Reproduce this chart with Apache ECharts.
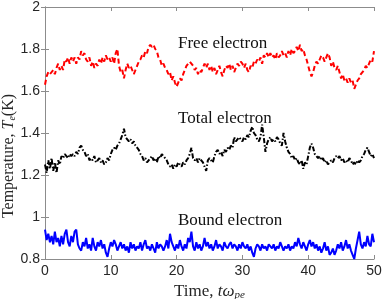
<!DOCTYPE html>
<html>
<head>
<meta charset="utf-8">
<script src="https://cdn.jsdelivr.net/npm/echarts@6/dist/echarts.min.js"></script>
<style>
html, body { margin: 0; padding: 0; background: #fff; }
#Main { width: 382px; height: 299px; }
</style>
</head>
<body>
<div id="Main"></div>
<script>
//时间步长 0.25, 0~50
var step = 0.25;
var xTicks = [0, 10, 20, 30, 40, 50];
var yTicks = [0.8, 1, 1.2, 1.4, 1.6, 1.8, 2];
//自由电子
var freeElectron = [
	1.63, 1.67, 1.69, 1.68, 1.68, 1.70, 1.68, 1.71, 1.73,
	1.70, 1.72, 1.70, 1.75, 1.74, 1.76, 1.73, 1.76,
	1.74, 1.76, 1.73, 1.76, 1.75, 1.79, 1.77, 1.78,
	1.75, 1.74, 1.76, 1.72, 1.74, 1.71, 1.73, 1.72,
	1.75, 1.73, 1.76, 1.74, 1.77, 1.75, 1.76, 1.74,
	1.76, 1.73, 1.78, 1.80, 1.72, 1.69, 1.70, 1.66,
	1.70, 1.73, 1.71, 1.72, 1.70, 1.68, 1.70, 1.72,
	1.74, 1.75, 1.77, 1.76, 1.79, 1.78, 1.81, 1.82,
	1.81, 1.82, 1.80, 1.79, 1.76, 1.75, 1.72, 1.73,
	1.71, 1.70, 1.68, 1.69, 1.65, 1.67, 1.64, 1.62,
	1.64, 1.66, 1.65, 1.68, 1.70, 1.72, 1.73, 1.74,
	1.73, 1.72, 1.70, 1.71, 1.68, 1.70, 1.69, 1.71,
	1.73, 1.71, 1.73, 1.70, 1.72, 1.69, 1.71, 1.68,
	1.70, 1.72, 1.69, 1.67, 1.70, 1.72, 1.71, 1.73,
	1.70, 1.72, 1.69, 1.71, 1.73, 1.72, 1.74, 1.73,
	1.71, 1.73, 1.70, 1.69, 1.72, 1.71, 1.74, 1.73,
	1.75, 1.74, 1.76, 1.73, 1.77, 1.76, 1.78, 1.76,
	1.78, 1.76, 1.77, 1.75, 1.78, 1.76, 1.77, 1.79,
	1.77, 1.78, 1.76, 1.79, 1.77, 1.80, 1.78, 1.79,
	1.81, 1.79, 1.82, 1.79, 1.80, 1.77, 1.75, 1.72,
	1.69, 1.67, 1.69, 1.72, 1.74, 1.73, 1.75, 1.77,
	1.76, 1.74, 1.76, 1.78, 1.76, 1.72, 1.74, 1.71,
	1.70, 1.72, 1.69, 1.66, 1.68, 1.65, 1.66, 1.64,
	1.66, 1.64, 1.65, 1.61, 1.63, 1.65, 1.66, 1.68,
	1.69, 1.70, 1.72, 1.71, 1.73, 1.75, 1.74, 1.79
];
//总电子
var totalElectron = [
	1.25, 1.21, 1.27, 1.23, 1.28, 1.22, 1.26, 1.21, 1.27,
	1.25, 1.29, 1.28, 1.30, 1.29, 1.28, 1.30, 1.29,
	1.30, 1.29, 1.31, 1.30, 1.33, 1.34, 1.32, 1.31,
	1.29, 1.30, 1.27, 1.28, 1.27, 1.29, 1.26, 1.27,
	1.28, 1.26, 1.27, 1.25, 1.26, 1.28, 1.27, 1.30,
	1.32, 1.33, 1.32, 1.34, 1.35, 1.37, 1.39, 1.42,
	1.38, 1.37, 1.36, 1.37, 1.35, 1.36, 1.34, 1.33,
	1.32, 1.30, 1.29, 1.27, 1.28, 1.26, 1.27, 1.28,
	1.29, 1.27, 1.28, 1.26, 1.29, 1.28, 1.30, 1.29,
	1.28, 1.27, 1.25, 1.24, 1.25, 1.23, 1.25, 1.24,
	1.26, 1.25, 1.24, 1.26, 1.25, 1.27, 1.28, 1.30,
	1.33, 1.28, 1.27, 1.28, 1.26, 1.28, 1.27, 1.26,
	1.24, 1.22, 1.27, 1.28, 1.27, 1.26, 1.29, 1.31,
	1.32, 1.30, 1.31, 1.29, 1.32, 1.31, 1.33, 1.32,
	1.34, 1.33, 1.38, 1.36, 1.37, 1.38, 1.37, 1.36,
	1.38, 1.37, 1.39, 1.38, 1.41, 1.43, 1.40, 1.39,
	1.37, 1.36, 1.38, 1.44, 1.38, 1.31, 1.35, 1.37,
	1.38, 1.36, 1.37, 1.36, 1.38, 1.37, 1.35, 1.34,
	1.40, 1.36, 1.33, 1.31, 1.30, 1.28, 1.29, 1.27,
	1.28, 1.26, 1.25, 1.27, 1.23, 1.26, 1.25, 1.29,
	1.33, 1.35, 1.33, 1.30, 1.29, 1.28, 1.29, 1.27,
	1.28, 1.26, 1.27, 1.25, 1.26, 1.27, 1.26, 1.28,
	1.29, 1.28, 1.29, 1.27, 1.28, 1.26, 1.27, 1.26,
	1.28, 1.27, 1.25, 1.26, 1.25, 1.27, 1.26, 1.27,
	1.29, 1.30, 1.32, 1.33, 1.31, 1.29, 1.30, 1.28
];
//束缚电子
var boundElectron = [
	0.94, 0.89, 0.92, 0.88, 0.91, 0.87, 0.93, 0.88, 0.90,
	0.86, 0.91, 0.87, 0.92, 0.94, 0.88, 0.86, 0.91,
	0.88, 0.93, 0.94, 0.87, 0.85, 0.84, 0.88, 0.86,
	0.90, 0.85, 0.87, 0.84, 0.90, 0.86, 0.84, 0.88,
	0.86, 0.89, 0.85, 0.87, 0.83, 0.81, 0.85, 0.88,
	0.86, 0.89, 0.87, 0.84, 0.86, 0.88, 0.85, 0.87,
	0.84, 0.86, 0.83, 0.88, 0.85, 0.87, 0.84, 0.86,
	0.85, 0.88, 0.84, 0.87, 0.89, 0.85, 0.86, 0.84,
	0.87, 0.85, 0.83, 0.88, 0.85, 0.87, 0.86, 0.84,
	0.86, 0.89, 0.85, 0.92, 0.88, 0.86, 0.84, 0.87,
	0.85, 0.89, 0.86, 0.84, 0.87, 0.85, 0.90, 0.88,
	0.93, 0.86, 0.84, 0.88, 0.85, 0.87, 0.84, 0.86,
	0.90, 0.86, 0.88, 0.85, 0.87, 0.84, 0.86, 0.89,
	0.85, 0.87, 0.86, 0.84, 0.88, 0.86, 0.85, 0.87,
	0.88, 0.85, 0.87, 0.86, 0.84, 0.87, 0.85, 0.88,
	0.86, 0.85, 0.87, 0.84, 0.86, 0.83, 0.81, 0.85,
	0.87, 0.86, 0.84, 0.87, 0.85, 0.86, 0.84, 0.87,
	0.86, 0.85, 0.87, 0.84, 0.86, 0.85, 0.88, 0.86,
	0.84, 0.86, 0.85, 0.87, 0.84, 0.86, 0.85, 0.88,
	0.86, 0.90, 0.87, 0.85, 0.88, 0.86, 0.84, 0.87,
	0.89, 0.86, 0.88, 0.85, 0.87, 0.84, 0.86, 0.83,
	0.85, 0.88, 0.84, 0.86, 0.82, 0.83, 0.85, 0.82,
	0.84, 0.87, 0.85, 0.88, 0.84, 0.86, 0.89, 0.85,
	0.87, 0.84, 0.82, 0.80, 0.85, 0.89, 0.93, 0.87,
	0.85, 0.88, 0.86, 0.91, 0.87, 0.86, 0.92, 0.88
];

function pairs(arr) {
	var out = [];
	for (var i = 0; i < arr.length; i++) {
		out.push([i * step, arr[i]]);
	}
	return out;
}

var axisColor = '#8c8c8c';
var labelColor = '#262626';
var serif = '"Liberation Serif", "DejaVu Serif", serif';
var sans = '"Liberation Sans", Arial, sans-serif';

var myChart = echarts.init(document.getElementById('Main'));
myChart.setOption({
	animation: false,
	grid: { left: 45, right: 8, top: 7, bottom: 40, outerBoundsMode: 'none', containLabel: false },
	xAxis: [{
		type: 'value',
		min: xTicks[0],
		max: xTicks[xTicks.length - 1],
		interval: 10,
		position: 'bottom',
		name: '{n|Time, }{i|tω}{s|pe}',
		nameLocation: 'middle',
		nameGap: 17,
		nameTextStyle: {
			rich: {
				n: { fontFamily: serif, fontSize: 17, color: labelColor },
				i: { fontFamily: serif, fontSize: 17, fontStyle: 'italic', color: labelColor },
				s: { fontFamily: serif, fontSize: 11, fontStyle: 'italic', color: labelColor, verticalAlign: 'bottom', padding: [7, 0, 0, 0] }
			}
		},
		axisLine: { lineStyle: { color: axisColor, width: 1 } },
		axisTick: { inside: true, length: 4, lineStyle: { color: axisColor } },
		axisLabel: { color: labelColor, fontFamily: sans, fontSize: 14, margin: 5 },
		splitLine: { show: false }
	}, {
		type: 'value',
		min: xTicks[0],
		max: xTicks[xTicks.length - 1],
		interval: 10,
		position: 'top',
		axisLine: { lineStyle: { color: axisColor, width: 1 } },
		axisTick: { inside: true, length: 4, lineStyle: { color: axisColor } },
		axisLabel: { show: false },
		splitLine: { show: false }
	}],
	yAxis: [{
		type: 'value',
		min: yTicks[0],
		max: yTicks[yTicks.length - 1],
		interval: 0.2,
		position: 'left',
		axisLine: { lineStyle: { color: axisColor, width: 1 } },
		axisTick: { inside: true, length: 4, lineStyle: { color: axisColor } },
		axisLabel: {
			color: labelColor, fontFamily: sans, fontSize: 14, margin: 5,
			formatter: function(v) { return String(+v.toFixed(1)); }
		},
		splitLine: { show: false }
	}, {
		type: 'value',
		min: yTicks[0],
		max: yTicks[yTicks.length - 1],
		interval: 0.2,
		position: 'right',
		axisLine: { lineStyle: { color: axisColor, width: 1 } },
		axisTick: { inside: true, length: 4, lineStyle: { color: axisColor } },
		axisLabel: { show: false },
		splitLine: { show: false }
	}],
	graphic: [
		//纵轴标题
		{
			type: 'text', x: 9, y: 156, rotation: Math.PI / 2,
			style: {
				text: '{n|Temperature, }{i|T}{s|e}{n|(K)}',
				align: 'center', verticalAlign: 'middle',
				rich: {
					n: { fontFamily: serif, fontSize: 16, fill: labelColor },
					i: { fontFamily: serif, fontSize: 16, fontStyle: 'italic', fill: labelColor },
					s: { fontFamily: serif, fontSize: 10, fontStyle: 'italic', fill: labelColor, verticalAlign: 'bottom', padding: [6, 0, 0, 0] }
				}
			}
		},
		{ type: 'text', left: 178, top: 35, style: { text: 'Free electron', font: '17px ' + serif, fill: '#111' } },
		{ type: 'text', left: 178, top: 110, style: { text: 'Total electron', font: '17px ' + serif, fill: '#111' } },
		{ type: 'text', left: 178, top: 212, style: { text: 'Bound electron', font: '17px ' + serif, fill: '#111' } }
	],
	series: [{
		name: 'Free electron',
		type: 'line',
		showSymbol: false,
		data: pairs(freeElectron),
		lineStyle: { color: '#ff0000', width: 2, type: [5, 3] }
	}, {
		name: 'Total electron',
		type: 'line',
		showSymbol: false,
		data: pairs(totalElectron),
		lineStyle: { color: '#000000', width: 2, type: [5, 2, 1.5, 2] }
	}, {
		name: 'Bound electron',
		type: 'line',
		showSymbol: false,
		data: pairs(boundElectron),
		lineStyle: { color: '#0000ff', width: 2 }
	}]
});
</script>
</body>
</html>
